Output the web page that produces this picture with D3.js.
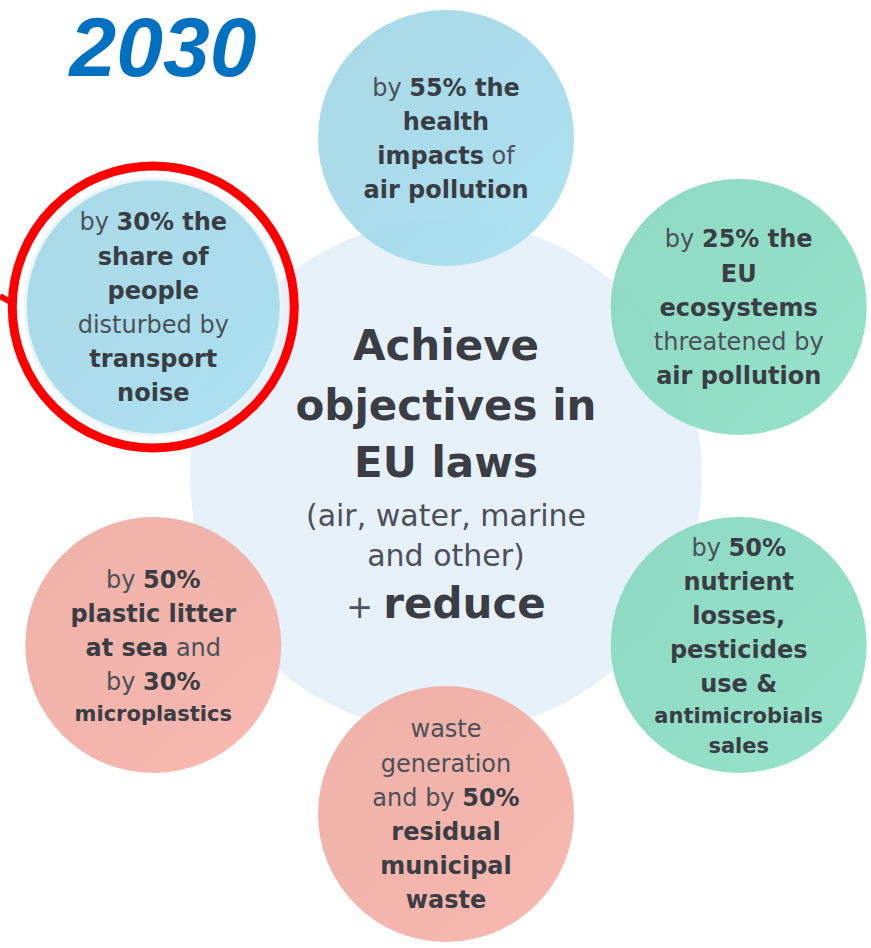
<!DOCTYPE html>
<html>
<head>
<meta charset="utf-8">
<script src="https://cdn.jsdelivr.net/npm/d3@7"></script>
<style>
  html, body { margin: 0; padding: 0; background: #fff; }
  svg { display: block; font-family: "DejaVu Sans", Verdana, sans-serif; }
</style>
</head>
<body>
<div id="chart"></div>
<script>
var w = 871, h = 948;

// outer goals, clockwise from the top; **text** is bold
var goalNames = ["air health", "ecosystems", "nutrients", "waste", "plastic", "noise"];
var goalGroups = ["blue", "green", "green", "pink", "pink", "blue"];
var goalLines = [
  ["by **55% the**", "**health**", "**impacts** of", "**air pollution**"],
  ["by **25% the**", "**EU**", "**ecosystems**", "threatened by", "**air pollution**"],
  ["by **50%**", "**nutrient**", "**losses,**", "**pesticides**", "**use &**", "**antimicrobials**", "**sales**"],
  ["waste", "generation", "and by **50%**", "**residual**", "**municipal**", "**waste**"],
  ["by **50%**", "**plastic litter**", "**at sea** and", "by **30%**", "**microplastics**"],
  ["by **30% the**", "**share of**", "**people**", "disturbed by", "**transport**", "**noise**"]
];
var smallLines = ["**antimicrobials**", "**sales**", "**microplastics**"];
var highlighted = ["noise"];

var centerLines = ["**Achieve**", "**objectives in**", "**EU laws**", "(air, water, marine", "and other)", "+ **reduce**"];
var title = "2030";

var groupColor = d3.scaleOrdinal()
  .domain(["blue", "green", "pink"])
  .range(["#a6dbea", "#8cdcc2", "#f2b1a7"]);

var cx = 446, cy = 476, ring = 338, rSmall = 128, rBig = 256;

var angle = d3.scalePoint()
  .domain(goalNames)
  .range([0, 2 * Math.PI * 5 / 6]);

function parse(line) {
  var parts = line.split("**"), out = [];
  parts.forEach((p, i) => { if (p) out.push({ t: p, b: i % 2 === 1 }); });
  return out;
}

var svg = d3.select("#chart").append("svg")
  .attr("width", w)
  .attr("height", h);

var defs = svg.append("defs");
groupColor.domain().forEach(g => {
  var base = d3.color(groupColor(g));
  var grad = defs.append("linearGradient")
    .attr("id", "grad-" + g)
    .attr("x1", 0).attr("y1", 0).attr("x2", 1).attr("y2", 1);
  grad.append("stop").attr("offset", "0%").attr("stop-color", base.darker(0.05));
  grad.append("stop").attr("offset", "55%").attr("stop-color", base);
  grad.append("stop").attr("offset", "100%").attr("stop-color", base.brighter(0.08));
});

// central circle
svg.append("circle")
  .attr("cx", cx)
  .attr("cy", cy)
  .attr("r", rBig)
  .attr("fill", "#e6f1fa");

var goals = goalNames.map((name, i) => {
  var p = d3.pointRadial(angle(name), ring);
  return { name: name, group: goalGroups[i], lines: goalLines[i], x: cx + p[0], y: cy + p[1] };
});

var g = svg.selectAll("g.goal")
  .data(goals)
  .enter().append("g")
  .attr("class", "goal")
  .attr("transform", d => `translate(${d.x},${d.y})`);

g.append("circle")
  .attr("r", rSmall)
  .attr("fill", d => `url(#grad-${d.group})`)
  .attr("fill-opacity", 0.95)
  .attr("stroke", d => highlighted.includes(d.name) ? "#eaf6fb" : "none")
  .attr("stroke-width", 3);

g.each(function (d) {
  var sizes = d.lines.map(l => smallLines.includes(l) ? 21 : 24);
  var lh = sizes.map(s => s * 1.42);
  var total = d3.sum(lh);
  var y = -total / 2;
  var sel = d3.select(this);
  d.lines.forEach((line, i) => {
    var yy = y + lh[i] / 2;
    y += lh[i];
    var t = sel.append("text")
      .attr("y", yy)
      .attr("dy", "0.36em")
      .attr("text-anchor", "middle")
      .style("font-size", sizes[i] + "px");
    parse(line).forEach(s => {
      t.append("tspan")
        .text(s.t)
        .attr("fill", s.b ? "#3a3d44" : "#4c5058")
        .style("font-weight", s.b ? 700 : 400);
    });
  });
});

// highlight ring and pointer
goals.filter(d => highlighted.includes(d.name)).forEach(d => {
  svg.append("circle")
    .attr("cx", d.x)
    .attr("cy", d.y)
    .attr("r", rSmall + 13)
    .attr("fill", "none")
    .attr("stroke", "#ff0000")
    .attr("stroke-width", 9);
  svg.append("line")
    .attr("x1", 0).attr("y1", d.y - 11)
    .attr("x2", d.x - rSmall - 13).attr("y2", d.y - 4)
    .attr("stroke", "#ff0000")
    .attr("stroke-width", 6);
});

// centre text
var cSizes = [42, 42, 42, 30, 30, 42];
var cY = [345, 405, 462, 515, 555, 603];
centerLines.forEach((line, i) => {
  var t = svg.append("text")
    .attr("x", cx)
    .attr("y", cY[i])
    .attr("dy", "0.36em")
    .attr("text-anchor", "middle")
    .style("font-size", cSizes[i] + "px");
  parse(line).forEach(s => {
    t.append("tspan")
      .text(s.t)
      .attr("fill", s.b ? "#3a3d44" : "#4c5058")
      .style("font-weight", s.b ? 700 : 400)
      .style("font-size", (!s.b && i === 5 ? 32 : cSizes[i]) + "px");
  });
});

svg.append("text")
  .attr("x", 163)
  .attr("y", 76)
  .attr("text-anchor", "middle")
  .attr("fill", "#0070c0")
  .style("font-family", "'Liberation Sans', Arial, sans-serif")
  .style("font-weight", 700)
  .style("font-style", "italic")
  .style("font-size", "84px")
  .text(title);
</script>
</body>
</html>
